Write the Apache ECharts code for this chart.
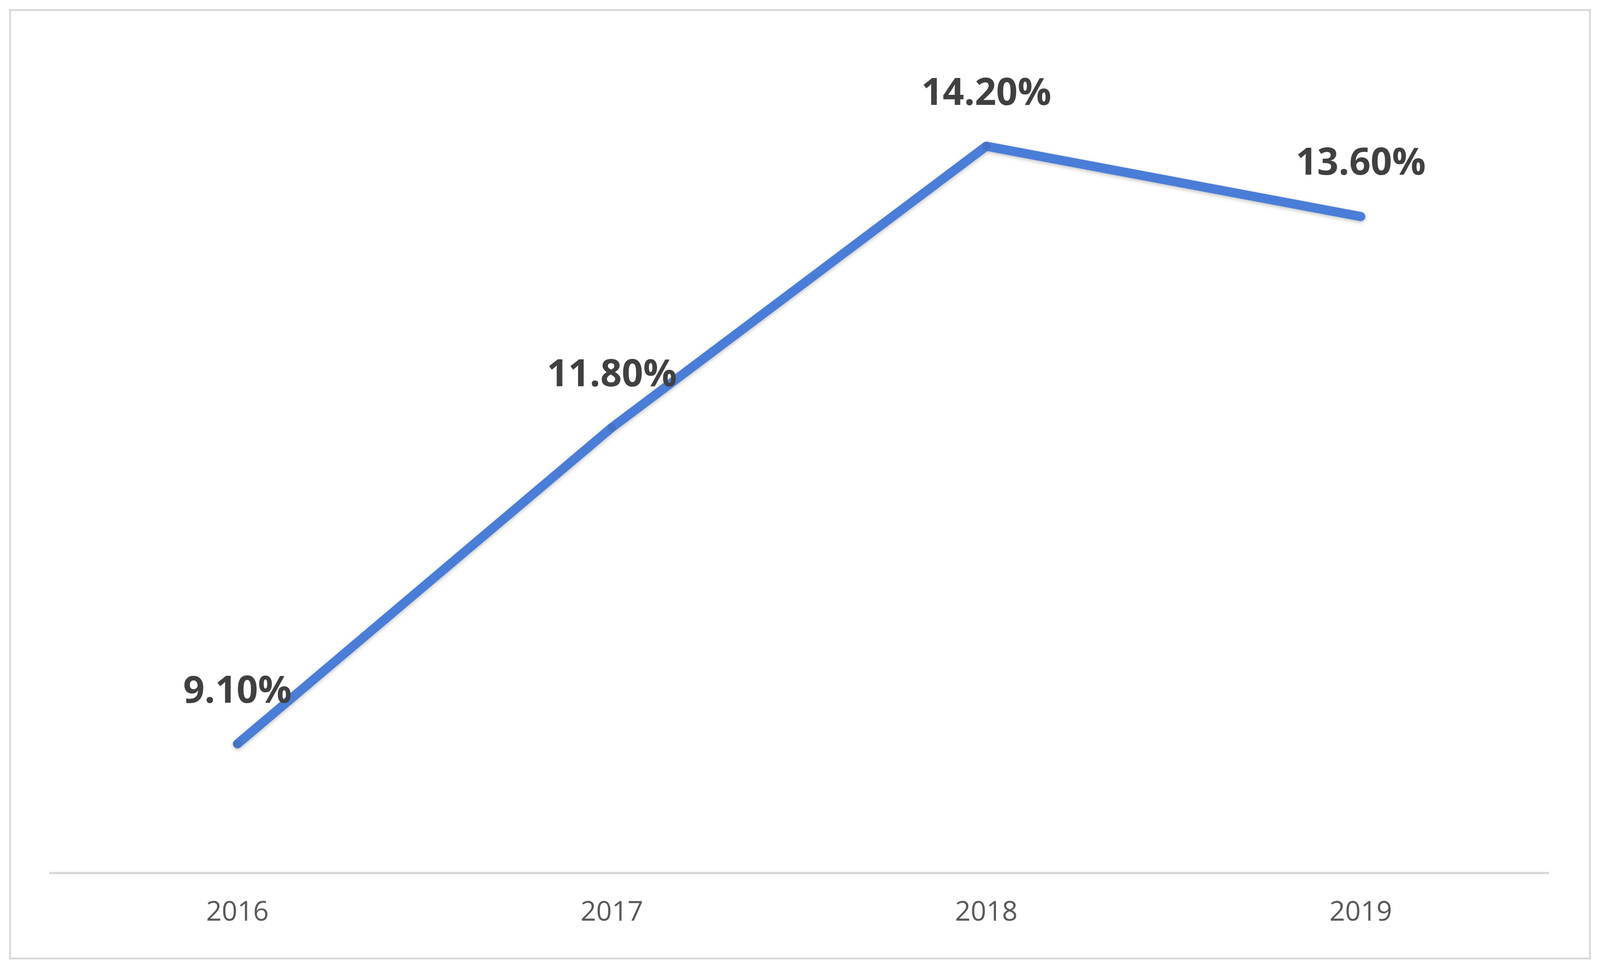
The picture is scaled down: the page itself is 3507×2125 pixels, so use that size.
<!DOCTYPE html>
<html>
<head>
<meta charset="UTF-8">
<script src="https://cdn.jsdelivr.net/npm/echarts@6/dist/echarts.min.js"></script>
<style>
html,body{margin:0;padding:0;background:#fff;}
#chart{width:3507px;height:2125px;}
</style>
</head>
<body>
<div id="chart"></div>
<script>
// 数据
const years = ['2016', '2017', '2018', '2019'];
const rates = [9.1, 11.8, 14.2, 13.6];

const chart = echarts.init(document.getElementById('chart'));
chart.setOption({
  backgroundColor: '#fff',
  graphic: [{
    type: 'rect',
    shape: {x: 22, y: 22, width: 3463, height: 2080},
    style: {fill: 'none', stroke: '#d9d9d9', lineWidth: 4}
  }],
  grid: {left: 110, right: 114, top: 115, bottom: 211},
  xAxis: {
    type: 'category',
    data: years,
    boundaryGap: true,
    axisLine: {lineStyle: {color: '#d9d9d9', width: 5}},
    axisTick: {show: false},
    axisLabel: {color: '#595959', fontSize: 60, margin: 58, fontFamily: 'Open Sans'}
  },
  yAxis: {
    type: 'value',
    min: 8,
    max: 15,
    show: false,
    splitLine: {show: false}
  },
  series: [{
    type: 'line',
    data: rates,
    symbol: 'circle',
    symbolSize: 18,
    itemStyle: {color: '#4472C4'},
    lineStyle: {color: '#4472C4', width: 20, cap: 'round', join: 'round',
      shadowColor: 'rgba(0,0,0,0.25)', shadowBlur: 8, shadowOffsetY: 3},
    label: {
      show: true,
      position: 'top',
      distance: 64,
      color: '#404040',
      fontSize: 82,
      fontWeight: 'bold',
      fontFamily: 'Open Sans',
      formatter: p => p.value.toFixed(2) + '%'
    }
  }]
});
</script>
</body>
</html>
